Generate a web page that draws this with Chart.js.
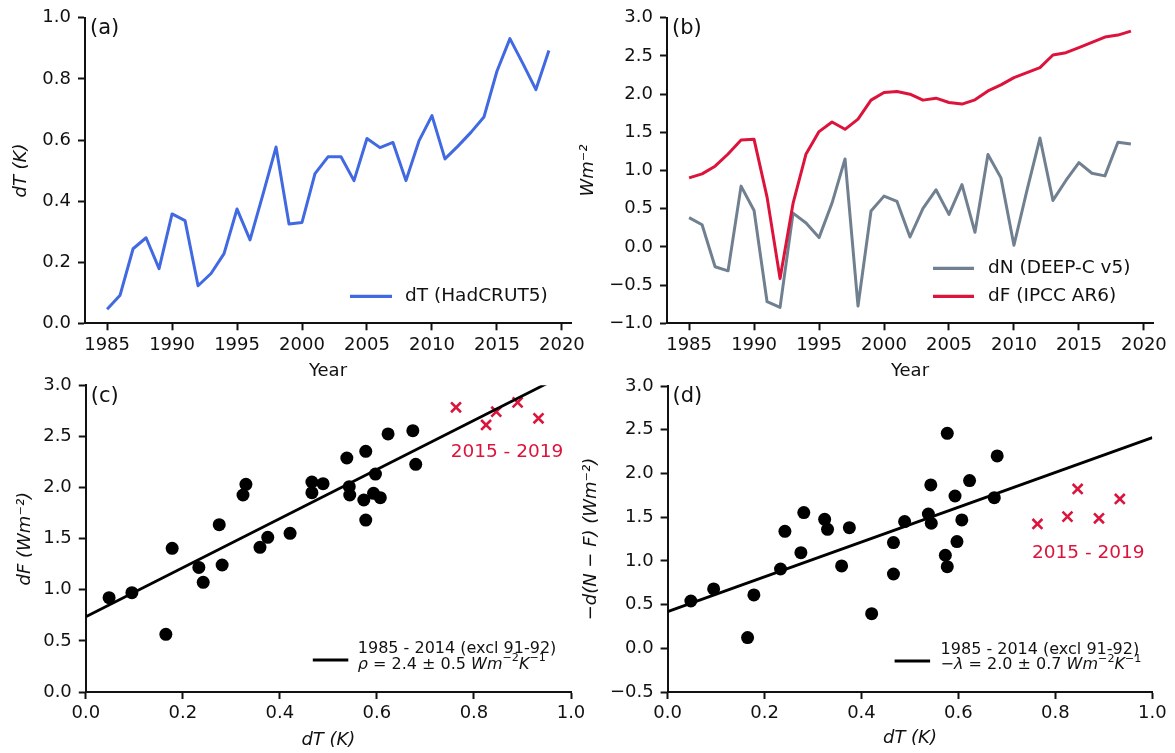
<!DOCTYPE html>
<html>
<head>
<meta charset="utf-8">
<title>Warming, forcing and net flux 1985-2019</title>
<script src="https://cdn.jsdelivr.net/npm/chart.js"></script>
<style>
  body { margin: 0; background: #fff; }
  .panel { position: absolute; left: 0; top: 0; }
</style>
</head>
<body>
<canvas class="panel" id="chartA" width="1175" height="753"></canvas>
<canvas class="panel" id="chartB" width="1175" height="753"></canvas>
<canvas class="panel" id="chartC" width="1175" height="753"></canvas>
<canvas class="panel" id="chartD" width="1175" height="753"></canvas>
<script>
// yearly series, panels (a) and (b)
const years = [1985, 1986, 1987, 1988, 1989, 1990, 1991, 1992, 1993, 1994, 1995, 1996, 1997, 1998, 1999, 2000, 2001,
  2002, 2003, 2004, 2005, 2006, 2007, 2008, 2009, 2010, 2011, 2012, 2013, 2014, 2015, 2016, 2017, 2018, 2019];
const dT = [0.046, 0.092, 0.244, 0.280, 0.179, 0.358, 0.336, 0.123, 0.163, 0.228, 0.374, 0.273, 0.423, 0.577, 0.325,
  0.330, 0.490, 0.545, 0.545, 0.467, 0.605, 0.575, 0.592, 0.467, 0.597, 0.680, 0.538, 0.580, 0.625, 0.675,
  0.825, 0.932, 0.850, 0.765, 0.893];
const dN = [0.383, 0.291, -0.260, -0.313, 0.796, 0.478, -0.717, -0.791, 0.443, 0.313, 0.122, 0.574, 1.152, -0.774, 0.470,
  0.665, 0.596, 0.130, 0.504, 0.748, 0.426, 0.817, 0.191, 1.209, 0.904, 0.022, 0.740, 1.426, 0.609, 0.870,
  1.104, 0.965, 0.930, 1.370, 1.348];
const dF = [0.904, 0.957, 1.057, 1.217, 1.400, 1.409, 0.652, -0.413, 0.570, 1.217, 1.510, 1.635, 1.540, 1.674, 1.922,
  2.022, 2.035, 2.000, 1.922, 1.948, 1.891, 1.870, 1.926, 2.043, 2.122, 2.217, 2.283, 2.348, 2.513, 2.543,
  2.609, 2.678, 2.748, 2.774, 2.826];

// scatter panels (c) and (d): 1985-2014 without 1991-92
const fitDT = [0.048, 0.095, 0.242, 0.281, 0.178, 0.359, 0.165, 0.233, 0.375, 0.275, 0.421, 0.577, 0.324, 0.330,
  0.489, 0.543, 0.544, 0.466, 0.607, 0.573, 0.593, 0.466, 0.597, 0.680, 0.538, 0.577, 0.623, 0.674];
const fitDF = [0.923, 0.972, 1.073, 1.242, 1.405, 1.415, 0.564, 1.219, 1.513, 1.637, 1.552, 1.682, 1.927, 2.031,
  2.038, 2.008, 1.927, 1.950, 1.901, 1.878, 1.943, 2.054, 2.132, 2.227, 2.289, 2.354, 2.524, 2.556];
const fitNet = [0.541, 0.679, 1.338, 1.552, 0.610, 0.942, 0.122, 0.907, 1.380, 1.094, 0.396, 2.459, 1.475, 1.361,
  1.449, 1.868, 1.430, 1.209, 1.468, 1.064, 1.742, 0.850, 1.220, 2.200, 1.536, 0.934, 1.918, 1.723];
// 2015 - 2019 (crosses)
const recentDT = [0.825, 0.933, 0.846, 0.763, 0.890];
const recentDF = [2.612, 2.677, 2.742, 2.785, 2.833];
const recentNet = [1.506, 1.708, 1.822, 1.422, 1.487];
// regression lines, value at dT = 0 and dT = 1
const fitLineX = [0, 1];
const fitLineC = [0.737, 3.137];
const fitLineD = [0.42, 2.41];

// tick labels
const yearTicks = [1985, 1990, 1995, 2000, 2005, 2010, 2015, 2020];
const tickA = [0, 0.2, 0.4, 0.6, 0.8, 1.0];
const tickB = [-1, -0.5, 0, 0.5, 1, 1.5, 2, 2.5, 3];
const tickDT = [0, 0.2, 0.4, 0.6, 0.8, 1.0];
const tickC = [0, 0.5, 1, 1.5, 2, 2.5, 3];
const tickD = [-0.5, 0, 0.5, 1, 1.5, 2, 2.5, 3];

const ink = '#111';
const blue = '#4169E1';
const grey = '#708090';
const red = '#DC143C';
const FONT = '"DejaVu Sans"';

Chart.defaults.font.family = FONT;
Chart.defaults.color = ink;

const pts = (xs, ys) => xs.map((x, i) => ({ x: x, y: ys[i] }));
const num = v => v.toFixed(1).replace('-', '\u2212');

function axis(o) {
  return {
    type: 'linear',
    min: o.min,
    max: o.max,
    border: { display: true, color: ink, width: 2 },
    grid: { display: true, drawOnChartArea: false, drawTicks: true, tickLength: 7, tickWidth: 2, tickColor: ink },
    ticks: { color: ink, font: { size: 18 }, padding: o.pad, autoSkip: false, maxRotation: 0, callback: o.fmt || num },
    title: { display: true, text: o.title, color: ink, padding: 0, font: { size: 18, style: o.italic ? 'italic' : 'normal' } },
    afterBuildTicks: s => { s.ticks = o.ticks.map(v => ({ value: v })); },
    afterFit: s => { if (s.isHorizontal()) s.height = o.size; else s.width = o.size; }
  };
}

// text with italic / superscript parts: [text, 'i' | 's' | '']
function drawRich(ctx, x, y, segs, size) {
  segs.forEach(([t, st]) => {
    const fs = st === 's' ? size * 0.7 : size;
    ctx.font = (st === 'i' ? 'italic ' : '') + fs + 'px ' + FONT;
    ctx.fillText(t, x, st === 's' ? y - size * 0.38 : y);
    x += ctx.measureText(t).width;
  });
}

const decor = {
  id: 'decor',
  afterDraw(chart, args, o) {
    const { ctx, chartArea: a, scales } = chart;
    ctx.save();
    ctx.textBaseline = 'middle';
    ctx.textAlign = 'left';
    ctx.fillStyle = ink;
    ctx.font = '21px ' + FONT;
    ctx.fillText(o.label, a.left + 5, a.top + 11);
    (o.rows || []).forEach(r => {
      ctx.strokeStyle = r.color;
      ctx.lineWidth = 3.2;
      ctx.beginPath();
      ctx.moveTo(a.left + o.handle[0], a.bottom - r.hy);
      ctx.lineTo(a.left + o.handle[1], a.bottom - r.hy);
      ctx.stroke();
      ctx.fillStyle = ink;
      r.text.forEach(([dy, segs]) => drawRich(ctx, a.left + o.textX, a.bottom - dy, segs, o.size));
    });
    (o.notes || []).forEach(n => {
      ctx.fillStyle = n.color;
      ctx.textAlign = 'center';
      ctx.font = n.size + 'px ' + FONT;
      ctx.fillText(n.text, scales.x.getPixelForValue(n.x), scales.y.getPixelForValue(n.y));
    });
    ctx.restore();
  }
};

function base(padding, scales, decorOpts) {
  return {
    responsive: false,
    animation: false,
    devicePixelRatio: 1,
    layout: { padding: padding },
    scales: scales,
    plugins: { legend: { display: false }, tooltip: { enabled: false }, decor: decorOpts }
  };
}

// (a) temperature anomaly
new Chart(document.getElementById('chartA'), {
  type: 'line',
  data: { datasets: [
    { data: pts(years, dT), borderColor: blue, borderWidth: 3, pointRadius: 0, borderJoinStyle: 'round' }
  ] },
  options: base({ left: 10.9, top: 16.5, right: 604, bottom: 371.2 }, {
    x: axis({ min: 1983.3, max: 2020.7, ticks: yearTicks, fmt: v => String(v), pad: 4, size: 58.5, title: 'Year' }),
    y: axis({ min: 0, max: 1, ticks: tickA, pad: 7, size: 74.1, title: 'dT (K)', italic: true })
  }, {
    label: '(a)', handle: [265, 307], textX: 320, size: 18.5,
    rows: [{ color: blue, hy: 27, text: [[27, [['dT (HadCRUT5)', '']]]] }]
  }),
  plugins: [decor]
});

// (b) net flux and forcing
new Chart(document.getElementById('chartB'), {
  type: 'line',
  data: { datasets: [
    { data: pts(years, dF), borderColor: red, borderWidth: 3, pointRadius: 0, borderJoinStyle: 'round' },
    { data: pts(years, dN), borderColor: grey, borderWidth: 3, pointRadius: 0, borderJoinStyle: 'round' }
  ] },
  options: base({ left: 577.5, top: 16.7, right: 22, bottom: 371.2 }, {
    x: axis({ min: 1983.3, max: 2020.7, ticks: yearTicks, fmt: v => String(v), pad: 4, size: 58.5, title: 'Year' }),
    y: axis({ min: -1, max: 3, ticks: tickB, pad: 7, size: 89.5, title: 'Wm\u207B\u00B2', italic: true })
  }, {
    label: '(b)', handle: [266, 307], textX: 321, size: 18.5,
    rows: [
      { color: grey, hy: 55, text: [[55, [['dN (DEEP-C v5)', '']]]] },
      { color: red, hy: 27, text: [[27, [['dF (IPCC AR6)', '']]]] }
    ]
  }),
  plugins: [decor]
});

// (c) forcing against warming
new Chart(document.getElementById('chartC'), {
  type: 'scatter',
  data: { datasets: [
    { type: 'line', data: pts(fitLineX, fitLineC), borderColor: '#000', borderWidth: 2.8, pointRadius: 0 },
    { data: pts(fitDT, fitDF), backgroundColor: '#000', borderWidth: 0, pointRadius: 6.5 },
    { data: pts(recentDT, recentDF), pointStyle: 'crossRot', borderColor: red, borderWidth: 2.6, pointRadius: 7 }
  ] },
  options: base({ left: 14.2, top: 385.3, right: 604, bottom: 2.2 }, {
    x: axis({ min: 0, max: 1, ticks: tickDT, pad: 4, size: 58.8, title: 'dT (K)', italic: true }),
    y: axis({ min: 0, max: 3, ticks: tickC, pad: 7, size: 71.6, title: 'dF (Wm\u207B\u00B2)', italic: true })
  }, {
    label: '(c)', handle: [227, 262.5], textX: 272, size: 16,
    rows: [{ color: '#000', hy: 32, text: [
      [43.5, [['1985 - 2014 (excl 91-92)', '']]],
      [27.5, [['\u03C1', 'i'], [' = 2.4 \u00B1 0.5 ', ''], ['Wm', 'i'], ['\u22122', 's'], ['K', 'i'], ['\u22121', 's']]]
    ] }],
    notes: [{ text: '2015 - 2019', x: 0.868, y: 2.35, color: red, size: 18.5 }]
  }),
  plugins: [decor]
});

// (d) feedback: -(dN - dF) against warming
new Chart(document.getElementById('chartD'), {
  type: 'scatter',
  data: { datasets: [
    { type: 'line', data: pts(fitLineX, fitLineD), borderColor: '#000', borderWidth: 2.8, pointRadius: 0 },
    { data: pts(fitDT, fitNet), backgroundColor: '#000', borderWidth: 0, pointRadius: 6.5 },
    { data: pts(recentDT, recentNet), pointStyle: 'crossRot', borderColor: red, borderWidth: 2.6, pointRadius: 7 }
  ] },
  options: base({ left: 580.9, top: 386, right: 22.7, bottom: 4.2 }, {
    x: axis({ min: 0, max: 1, ticks: tickDT, pad: 4, size: 56.8, title: 'dT (K)', italic: true }),
    y: axis({ min: -0.5, max: 3, ticks: tickD, pad: 7, size: 86.7, title: '\u2212d(N \u2212 F) (Wm\u207B\u00B2)', italic: true })
  }, {
    label: '(d)', handle: [227, 262.5], textX: 273, size: 16,
    rows: [{ color: '#000', hy: 31, text: [
      [42.5, [['1985 - 2014 (excl 91-92)', '']]],
      [27, [['\u2212', ''], ['\u03BB', 'i'], [' = 2.0 \u00B1 0.7 ', ''], ['Wm', 'i'], ['\u22122', 's'], ['K', 'i'], ['\u22121', 's']]]
    ] }],
    notes: [{ text: '2015 - 2019', x: 0.868, y: 1.086, color: red, size: 18.5 }]
  }),
  plugins: [decor]
});
</script>
</body>
</html>
